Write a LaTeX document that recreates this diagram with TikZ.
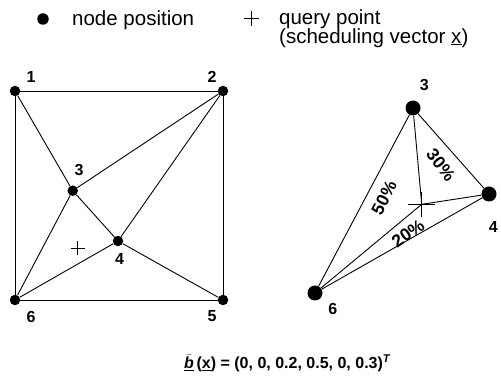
\documentclass[tikz,border=0pt]{standalone}
\usepackage{fontspec}
\setmainfont{Liberation Sans}
\begin{document}
\begin{tikzpicture}[x=1pt,y=-1pt,
  dotL/.style={circle,fill=black,inner sep=0pt,minimum size=10.5pt},
  dotR/.style={circle,fill=black,inner sep=0pt,minimum size=15pt},
  lbl/.style={inner sep=0pt,font=\fontsize{16}{18}\selectfont\bfseries},
  pct/.style={inner sep=0pt,font=\fontsize{17.5}{20}\selectfont\bfseries},
  legend/.style={inner sep=0pt,anchor=base west,font=\fontsize{20.5}{24}\selectfont},
  edge/.style={line width=0.9pt},
  crossline/.style={line width=1.1pt}]
\useasboundingbox (0,0) rectangle (501,387);
% legend
\node[dotL,minimum size=11.5pt] (legdot) at (43,19) {};
\node[legend] (legtxt1) at (72,25.7) {node position};
\coordinate (legq) at (251.7,18.3);
\draw[crossline] ([xshift=-7.5pt]legq) -- ([xshift=7.5pt]legq);
\draw[crossline] ([yshift=-7.5pt]legq) -- ([yshift=7.5pt]legq);
\node[legend] (legtxt2) at (279,25) {query point};
\node[legend] (legtxt3) at (279,43.3) {(scheduling vector \underline{x})};
% left diagram
\node[dotL] (l1) at (15,91) {};
\node[dotL] (l2) at (223,91) {};
\node[dotL] (l3) at (72.7,190.7) {};
\node[dotL] (l4) at (118,241) {};
\node[dotL] (l5) at (223,300) {};
\node[dotL] (l6) at (15,300) {};
\draw[edge] (l1) -- (l2);
\draw[edge] (l2) -- (l5);
\draw[edge] (l5) -- (l6);
\draw[edge] (l6) -- (l1);
\draw[edge] (l1) -- (l3);
\draw[edge] (l3) -- (l2);
\draw[edge] (l3) -- (l4);
\draw[edge] (l3) -- (l6);
\draw[edge] (l4) -- (l2);
\draw[edge] (l4) -- (l5);
\draw[edge] (l4) -- (l6);
\coordinate (lq) at (77.7,248.3);
\draw[crossline] ([xshift=-7pt]lq) -- ([xshift=7pt]lq);
\draw[crossline] ([yshift=-7pt]lq) -- ([yshift=7pt]lq);
\node[lbl] (t1) at (31,77) {1};
\node[lbl] (t2) at (212,77) {2};
\node[lbl] (t3) at (79,170) {3};
\node[lbl] (t4) at (119.5,258.5) {4};
\node[lbl] (t5) at (212,316) {5};
\node[lbl] (t6) at (31,317) {6};
% right diagram
\node[dotR] (r3) at (413,108) {};
\node[dotR] (r4) at (489,194) {};
\node[dotR] (r6) at (315,293) {};
\coordinate (rq) at (421.7,204.3);
\draw[edge] (r3) -- (r4);
\draw[edge] (r3) -- (r6);
\draw[edge] (r4) -- (r6);
\draw[edge] (r3) -- (rq);
\draw[edge] (r4) -- (rq);
\draw[edge] (r6) -- (rq);
\draw[crossline] ([xshift=-13.5pt]rq) -- ([xshift=13.5pt]rq);
\draw[crossline] ([yshift=-12.5pt]rq) -- ([yshift=12.5pt]rq);
\node[lbl] (u3) at (424.3,85) {3};
\node[lbl] (u4) at (493.3,227) {4};
\node[lbl] (u6) at (332.7,309.3) {6};
\node[pct,rotate=63] (p50) at (384,198) {50\%};
\node[pct,rotate=-52] (p30) at (441,165) {30\%};
\node[pct,rotate=35] (p20) at (408,233.5) {20\%};
% formula
\node[inner sep=0pt,anchor=base west,font=\fontsize{16}{18}\selectfont\bfseries] (formula) at (184,369)
  {\underline{$\widetilde{\hbox{\bfseries\itshape b}}$}\,(\underline{x}) = (0, 0, 0.2, 0.5, 0, 0.3)\textsuperscript{\itshape T}};
\end{tikzpicture}
\end{document}
